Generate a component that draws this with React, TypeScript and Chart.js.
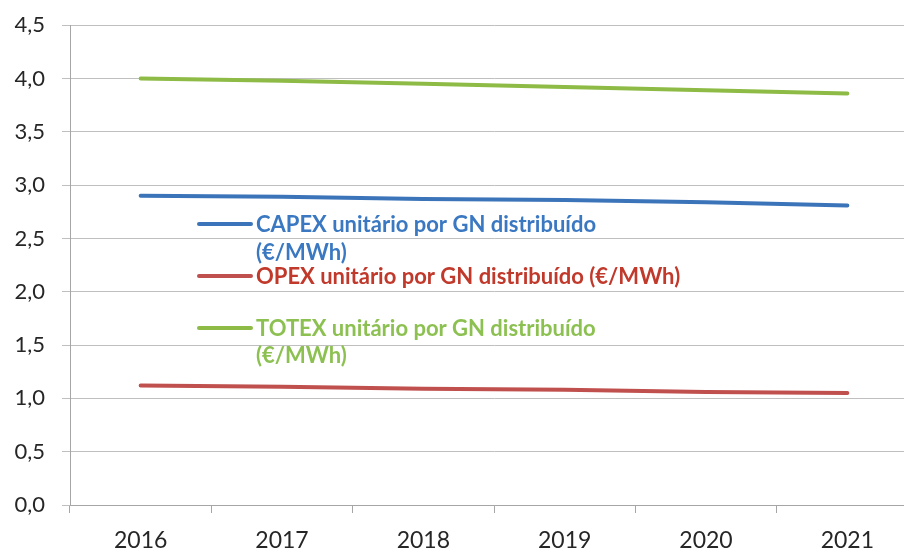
import React, { useEffect, useRef } from "react";
import { Chart, registerables } from "chart.js";

Chart.register(...registerables);

const years = ["2016", "2017", "2018", "2019", "2020", "2021"];
const capex = [2.9, 2.89, 2.87, 2.86, 2.84, 2.81];
const opex = [1.12, 1.11, 1.09, 1.08, 1.06, 1.05];
const totex = [4.0, 3.98, 3.95, 3.92, 3.89, 3.86];
const seriesLabels = [
  ["CAPEX unitário por GN distribuído", "(€/MWh)"],
  ["OPEX unitário por GN distribuído (€/MWh)"],
  ["TOTEX unitário por GN distribuído", "(€/MWh)"],
];
const lineColors = ["#3C74BA", "#C0504D", "#8DBB45"];
const textColors = ["#3A78C2", "#C0392B", "#8CC152"];

const SHIFT = 5;

const legendPlugin = {
  id: "insideLegend",
  afterDatasetsDraw(chart: any) {
    const ctx = chart.ctx;
    const rows = [
      { lineY: 224, lines: [224, 252] },
      { lineY: 276, lines: [276] },
      { lineY: 328, lines: [328, 355] },
    ];
    ctx.save();
    ctx.font = "bold 22px Lato";
    ctx.textBaseline = "middle";
    ctx.textAlign = "left";
    rows.forEach((r, i) => {
      ctx.strokeStyle = lineColors[i];
      ctx.lineWidth = 4;
      ctx.lineCap = "round";
      ctx.beginPath();
      ctx.moveTo(199, r.lineY + SHIFT);
      ctx.lineTo(251, r.lineY + SHIFT);
      ctx.stroke();
      ctx.fillStyle = textColors[i];
      seriesLabels[i].forEach((t, j) => {
        ctx.fillText(t, 256, r.lines[j] + 1 + SHIFT);
      });
    });
    ctx.restore();
  },
};

export default function App() {
  const ref = useRef<HTMLCanvasElement>(null);
  useEffect(() => {
    if (!ref.current) return;
    const chart = new Chart(ref.current, {
      type: "line",
      data: {
        labels: years,
        datasets: [capex, opex, totex].map((d, i) => ({
          label: seriesLabels[i].join(" "),
          data: d,
          borderColor: lineColors[i],
          backgroundColor: lineColors[i],
          borderWidth: 4,
          borderCapStyle: "round",
          pointRadius: 0,
          tension: 0,
          fill: false,
        })),
      },
      options: {
        animation: false,
        responsive: false,
        devicePixelRatio: 1,
        layout: { padding: { top: 21, right: 2, left: 0, bottom: 0 } },
        plugins: { legend: { display: false }, tooltip: { enabled: false } },
        scales: {
          x: {
            offset: true,
            grid: {
              offset: true,
              drawOnChartArea: false,
              tickLength: 8,
              color: "#A6A6A6",
            },
            border: { color: "#A6A6A6" },
            ticks: {
              padding: 14,
              color: "#262626",
              font: { family: "Lato", size: 23 },
              maxRotation: 0,
            },
            afterFit: (s: any) => {
              s.height = 47;
            },
          },
          y: {
            min: 0,
            max: 4.5,
            grid: { color: "#BFBFBF", tickLength: 8 },
            border: { color: "#A6A6A6" },
            ticks: {
              stepSize: 0.5,
              padding: 17,
              color: "#262626",
              font: { family: "Lato", size: 22 },
              callback: (v: any) => Number(v).toFixed(1).replace(".", ","),
            },
            afterFit: (s: any) => {
              s.width = 70;
            },
          },
        },
      },
      plugins: [legendPlugin],
    });
    return () => chart.destroy();
  }, []);
  return (
    <div
      style={{
        position: "fixed",
        left: 0,
        top: 0,
        width: 904,
        height: 552,
        overflow: "hidden",
        background: "#fff",
      }}
    >
      <canvas
        ref={ref}
        width={920}
        height={552 + SHIFT}
        style={{ width: 920, height: 552 + SHIFT, position: "absolute", left: 0, top: -SHIFT }}
      />
    </div>
  );
}
